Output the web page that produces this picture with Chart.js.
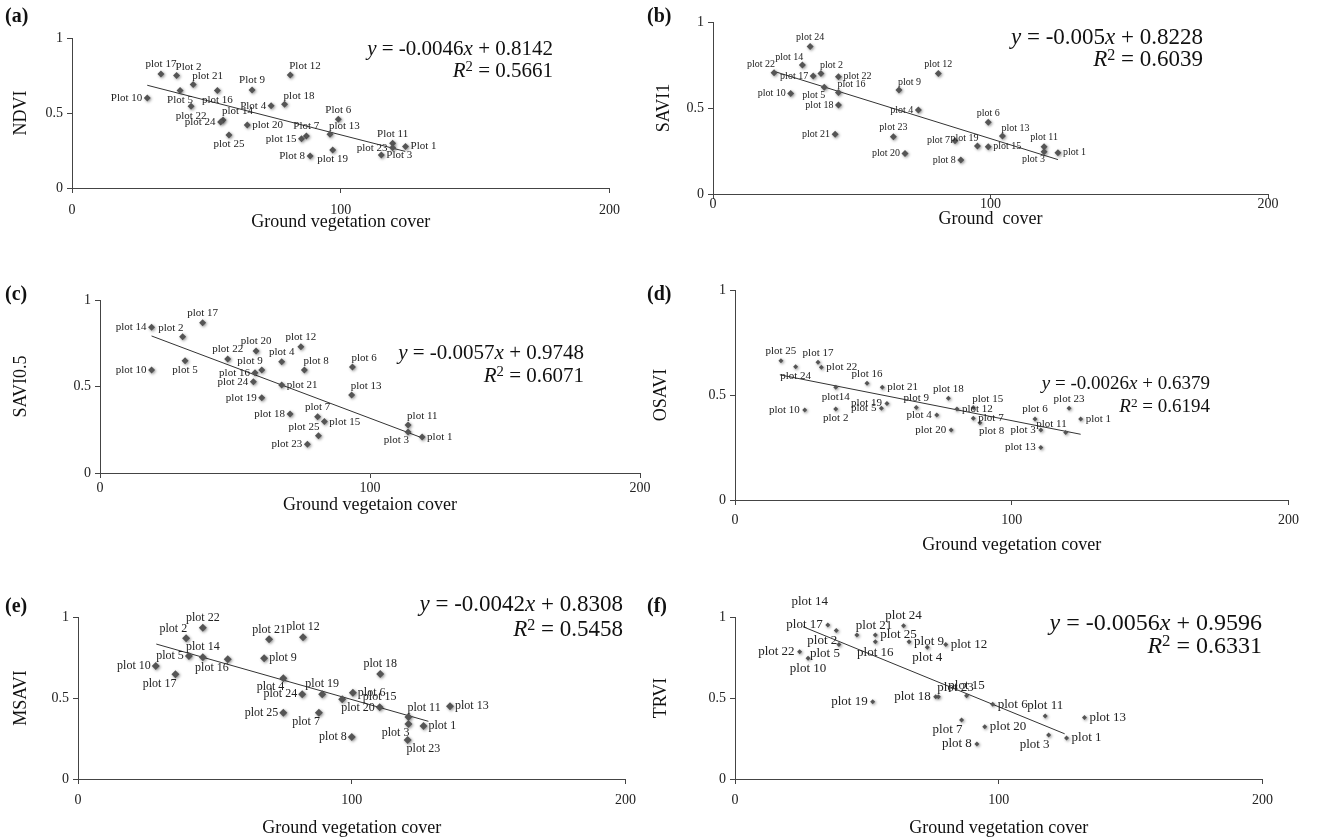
<!DOCTYPE html>
<html>
<head>
<meta charset="utf-8">
<script src="https://cdn.jsdelivr.net/npm/chart.js@4.4.0/dist/chart.umd.min.js"></script>
<style>
  body { margin: 0; background: #fff; width: 1326px; height: 840px; position: relative; overflow: hidden; font-family: "Liberation Serif", serif; }
  canvas { position: absolute; }
  .tag { position: absolute; font-weight: bold; font-size: 20px; color: #111; }
  .eq { position: absolute; text-align: right; white-space: nowrap; color: #111; }
  .eq sup { font-size: 0.7em; vertical-align: 0.4em; line-height: 0; }
</style>
</head>
<body>
<script>
// shared axes
const xTicks = [0, 100, 200];
const yTicks = [0, 0.5, 1];

// (a) NDVI
const aNames = ['Plot 10','plot 17','Plot 2','Plot 5','plot 21','plot 22','plot 16','plot 14','plot 24','plot 25','plot 20','Plot 9','Plot 4','plot 18','Plot 12','Plot 7','plot 15','Plot 8','Plot 6','plot 13','plot 19','Plot 11','plot 23','Plot 1','Plot 3'];
const aX = [28.0, 33.1, 38.9, 40.2, 45.1, 44.3, 54.1, 56.2, 55.3, 58.4, 65.2, 67.0, 74.1, 79.1, 81.2, 87.2, 85.4, 88.6, 99.1, 96.0, 97.0, 119.3, 119.3, 124.1, 115.1];
const aY = [0.60, 0.76, 0.75, 0.65, 0.69, 0.545, 0.65, 0.453, 0.44, 0.353, 0.42, 0.653, 0.549, 0.558, 0.753, 0.347, 0.329, 0.213, 0.458, 0.358, 0.253, 0.298, 0.269, 0.276, 0.22];
const aSide = ['l','t','tr','b','tr','b','b','tr','l','b','r','t','l','tr','tr','t','l','l','t','tr','b','t','l','r','r'];
const aFitX = [28, 124];
const aFitY = [0.685, 0.244];

// (b) SAVI1
const bNames = ['plot 24','plot 14','plot 22','plot 17','plot 2','plot 22','plot 10','plot 5','plot 16','plot 18','plot 21','plot 9','plot 12','plot 4','plot 23','plot 20','plot 7','plot 8','plot 6','plot 13','plot 19','plot 15','plot 11','plot 3','plot 1'];
const bX = [35.0, 32.2, 22.0, 36.1, 38.9, 45.2, 28.0, 40.1, 45.2, 45.2, 44.0, 67.0, 81.2, 74.0, 65.0, 69.2, 87.2, 89.3, 99.2, 104.3, 95.3, 99.2, 119.3, 119.3, 124.3];
const bY = [0.857, 0.75, 0.705, 0.686, 0.70, 0.682, 0.585, 0.62, 0.59, 0.517, 0.347, 0.605, 0.70, 0.488, 0.333, 0.236, 0.31, 0.197, 0.417, 0.337, 0.279, 0.275, 0.275, 0.246, 0.24];
const bSide = ['t','tl','tl','l','tr','r','l','bl','tr','l','l','tr','t','l','t','l','l','l','t','tr','tl','r','t','bl','r'];
const bFitX = [22, 124.3];
const bFitY = [0.713, 0.2];

// (c) SAVI0.5
const cNames = ['plot 14','plot 2','plot 17','plot 10','plot 5','plot 22','plot 20','plot 12','plot 4','plot 8','plot 9','plot 16','plot 24','plot 21','plot 19','plot 18','plot 7','plot 15','plot 25','plot 23','plot 13','plot 6','plot 11','plot 3','plot 1'];
const cX = [19.1, 30.6, 38.0, 19.1, 31.5, 47.3, 57.8, 74.4, 67.3, 75.7, 59.9, 57.4, 56.8, 67.3, 59.9, 70.4, 80.6, 83.1, 80.9, 76.8, 93.2, 93.5, 114.1, 114.1, 119.3];
const cY = [0.842, 0.788, 0.869, 0.595, 0.649, 0.659, 0.705, 0.730, 0.643, 0.595, 0.595, 0.58, 0.528, 0.509, 0.435, 0.341, 0.325, 0.297, 0.216, 0.166, 0.451, 0.613, 0.277, 0.237, 0.208];
const cSide = ['l','tl','t','l','b','t','t','t','t','tr','tl','l','l','r','l','l','t','r','tl','l','tr','tr','tr','bl','r'];
const cFitX = [19.1, 120];
const cFitY = [0.792, 0.199];

// (d) OSAVI
const dNames = ['plot 25','plot 24','plot 17','plot 22','plot14','plot 10','plot 2','plot 16','plot 21','plot 19','plot 5','plot 9','plot 4','plot 18','plot 20','plot 12','plot 15','plot 7','plot 8','plot 6','plot 23','plot 1','plot 11','plot 3','plot 13'];
const dX = [16.6, 21.9, 30.0, 31.2, 36.4, 25.2, 36.4, 47.7, 53.2, 54.9, 52.9, 65.5, 72.9, 77.1, 78.1, 80.2, 86.1, 86.1, 88.5, 108.4, 120.7, 124.9, 119.5, 110.5, 110.5];
const dY = [0.663, 0.635, 0.656, 0.632, 0.537, 0.429, 0.433, 0.556, 0.537, 0.46, 0.437, 0.44, 0.405, 0.484, 0.333, 0.433, 0.441, 0.389, 0.368, 0.386, 0.437, 0.386, 0.321, 0.333, 0.25];
const dSide = ['t','b','t','r','b','l','b','t','r','l','l','t','l','t','l','r','tr','r','br','t','t','r','tl','l','l'];
const dFitX = [16.2, 124.9];
const dFitY = [0.596, 0.313];

// (e) MSAVI
const eNames = ['plot 22','plot 2','plot 21','plot 12','plot 10','plot 5','plot 14','plot 16','plot 9','plot 17','plot 4','plot 19','plot 24','plot 6','plot 20','plot 25','plot 7','plot 18','plot 13','plot 15','plot 11','plot 3','plot 1','plot 23','plot 8'];
const eX = [45.6, 39.5, 69.8, 82.2, 28.4, 40.5, 45.6, 54.7, 68.0, 35.6, 75.0, 89.2, 81.9, 100.4, 96.5, 75.0, 88.0, 110.4, 135.9, 110.2, 120.7, 120.7, 126.2, 120.4, 100.0];
const eY = [0.934, 0.869, 0.862, 0.875, 0.697, 0.759, 0.752, 0.739, 0.745, 0.646, 0.622, 0.523, 0.523, 0.533, 0.492, 0.409, 0.409, 0.648, 0.449, 0.443, 0.383, 0.34, 0.327, 0.241, 0.26];
const eSide = ['t','tl','t','t','l','l','t','bl','r','bl','bl','t','l','r','br','l','bl','t','r','t','tr','bl','r','br','l'];
const eFitX = [28.6, 128];
const eFitY = [0.833, 0.356];

// (f) TRVI
const fNames = ['plot 14','plot 17','plot 2','plot 21','plot 22','plot 10','plot 5','plot 25','plot 16','plot 24','plot 9','plot 4','plot 12','plot 19','plot 18','plot 23','plot 15','plot 7','plot 20','plot 6','plot 11','plot 13','plot 3','plot 1','plot 8'];
const fX = [28.3, 35.2, 38.4, 46.2, 24.5, 27.7, 39.4, 53.2, 53.2, 63.9, 66.0, 72.9, 79.9, 52.2, 76.1, 77.1, 87.8, 85.9, 94.7, 97.7, 117.6, 132.5, 118.9, 125.7, 91.7];
const fY = [1.033, 0.951, 0.916, 0.889, 0.786, 0.745, 0.831, 0.889, 0.847, 0.946, 0.847, 0.813, 0.831, 0.477, 0.508, 0.508, 0.514, 0.364, 0.323, 0.461, 0.389, 0.379, 0.272, 0.253, 0.216];
const fSide = ['t','l','bl','tr','l','b','bl','r','b','t','r','b','r','l','l','tr','t','bl','r','r','t','r','bl','r','l'];
const fFitX = [25.8, 125];
const fFitY = [0.94, 0.279];

// trendline equations, in panel order a..f
const eqSlope = ['-0.0046', '-0.005', '-0.0057', '-0.0026', '-0.0042', '-0.0056'];
const eqIntercept = ['0.8142', '0.8228', '0.9748', '0.6379', '0.8308', '0.9596'];
const eqR2 = ['0.5661', '0.6039', '0.6071', '0.6194', '0.5458', '0.6331'];

const FONT = '"Liberation Serif", "Times New Roman", serif';
const INK = '#222';
const TOP = 26;

function labelPlugin(names, sides, size) {
  return {
    id: 'ptLabels',
    afterDatasetsDraw(chart) {
      const ctx = chart.ctx;
      const pts = chart.getDatasetMeta(0).data;
      ctx.save();
      ctx.font = size + 'px ' + FONT;
      ctx.fillStyle = INK;
      pts.forEach((pt, i) => {
        const s = sides[i];
        let x = pt.x, y = pt.y;
        if (s === 'r') { ctx.textAlign = 'left'; ctx.textBaseline = 'middle'; x += 5; }
        else if (s === 'l') { ctx.textAlign = 'right'; ctx.textBaseline = 'middle'; x -= 5; }
        else if (s === 't') { ctx.textAlign = 'center'; ctx.textBaseline = 'bottom'; y -= 4; }
        else if (s === 'b') { ctx.textAlign = 'center'; ctx.textBaseline = 'top'; y += 4; }
        else if (s === 'tr') { ctx.textAlign = 'left'; ctx.textBaseline = 'bottom'; x -= 1; y -= 3; }
        else if (s === 'tl') { ctx.textAlign = 'right'; ctx.textBaseline = 'bottom'; x += 1; y -= 3; }
        else if (s === 'br') { ctx.textAlign = 'left'; ctx.textBaseline = 'top'; x -= 1; y += 3; }
        else { ctx.textAlign = 'right'; ctx.textBaseline = 'top'; x += 1; y += 3; }
        ctx.fillText(names[i], x, y);
      });
      ctx.restore();
    }
  };
}

const shadowPlugin = {
  id: 'ptShadow',
  beforeDatasetDraw(chart, args) {
    if (args.index !== 0) return;
    const ctx = chart.ctx;
    ctx.save();
    ctx.shadowColor = 'rgba(0,0,0,0.45)';
    ctx.shadowBlur = 3;
    ctx.shadowOffsetX = 1;
    ctx.shadowOffsetY = 1;
  },
  afterDatasetDraw(chart, args) {
    if (args.index === 0) chart.ctx.restore();
  }
};

function makePanel(p) {
  const padL = p.yd + 10;
  const xH = p.xd + 11;
  const W = p.r - p.l + padL + 16;
  const H = p.b - p.t + TOP + xH;
  const cv = document.createElement('canvas');
  cv.width = W; cv.height = H;
  cv.style.left = (p.l - padL) + 'px';
  cv.style.top = (p.t - TOP) + 'px';
  document.body.appendChild(cv);

  const tag = document.createElement('div');
  tag.className = 'tag';
  tag.textContent = p.tag;
  tag.style.left = p.tagX + 'px';
  tag.style.top = p.tagY + 'px';
  document.body.appendChild(tag);

  const i = p.eqIdx;
  const eq = document.createElement('div');
  eq.className = 'eq';
  eq.innerHTML = '<i>y</i> = ' + eqSlope[i] + '<i>x</i> + ' + eqIntercept[i] +
    '<br><i>R</i><sup>2</sup> = ' + eqR2[i];
  eq.style.fontSize = p.eqSize + 'px';
  eq.style.lineHeight = p.eqGap + 'px';
  eq.style.right = (1326 - p.eqR) + 'px';
  eq.style.top = (p.eqY - p.eqGap / 2) + 'px';
  document.body.appendChild(eq);

  const tickFont = { family: FONT, size: 14 };
  new Chart(cv, {
    type: 'scatter',
    data: {
      datasets: [
        {
          data: p.xs.map((v, k) => ({ x: v, y: p.ys[k] })),
          pointStyle: 'rectRot',
          pointRadius: p.ptR,
          pointHoverRadius: p.ptR,
          backgroundColor: '#555',
          borderWidth: 0,
          clip: false
        },
        {
          type: 'line',
          data: p.fitX.map((v, k) => ({ x: v, y: p.fitY[k] })),
          borderColor: '#333',
          borderWidth: 1,
          pointRadius: 0,
          fill: false
        }
      ]
    },
    options: {
      responsive: false,
      animation: false,
      devicePixelRatio: 1,
      layout: { padding: { left: 0, top: TOP, right: 16, bottom: 0 } },
      plugins: { legend: { display: false }, tooltip: { enabled: false } },
      scales: {
        x: {
          type: 'linear', min: 0, max: 200,
          afterBuildTicks: s => { s.ticks = xTicks.map(v => ({ value: v })); },
          ticks: { font: tickFont, color: INK, padding: p.xPad, maxRotation: 0, autoSkip: false, callback: v => String(v) },
          grid: { drawOnChartArea: false, drawTicks: true, tickLength: 5, color: '#444' },
          border: { color: '#444', width: 1 },
          title: { display: true, text: p.xTitle, font: { family: FONT, size: 18 }, color: '#111', padding: 0 },
          afterFit: s => { s.height = xH; }
        },
        y: {
          type: 'linear', min: 0, max: 1,
          afterBuildTicks: s => { s.ticks = yTicks.map(v => ({ value: v })); },
          ticks: { font: tickFont, color: INK, padding: 4, callback: v => String(v) },
          grid: { drawOnChartArea: false, drawTicks: true, tickLength: 5, color: '#444' },
          border: { color: '#444', width: 1 },
          title: { display: true, text: p.yTitle, font: { family: FONT, size: 18 }, color: '#111', padding: 0 },
          afterFit: s => { s.width = padL; }
        }
      }
    },
    plugins: [shadowPlugin, labelPlugin(p.names, p.sides, p.lbl)]
  });
}

makePanel({ tag: '(a)', tagX: 5, tagY: 4, l: 72, t: 38, r: 613, b: 188, yd: 52, xd: 34, xPad: 9,
  yTitle: 'NDVI', xTitle: 'Ground vegetation cover', lbl: 11, ptR: 3.5,
  names: aNames, xs: aX, ys: aY, sides: aSide, fitX: aFitX, fitY: aFitY,
  eqIdx: 0, eqR: 553, eqY: 48, eqSize: 21, eqGap: 22 });
makePanel({ tag: '(b)', tagX: 647, tagY: 4, l: 713, t: 22, r: 1268, b: 194, yd: 50, xd: 25, xPad: -3,
  yTitle: 'SAVI1', xTitle: 'Ground  cover', lbl: 10, ptR: 3.5,
  names: bNames, xs: bX, ys: bY, sides: bSide, fitX: bFitX, fitY: bFitY,
  eqIdx: 1, eqR: 1203, eqY: 37, eqSize: 23, eqGap: 22 });
makePanel({ tag: '(c)', tagX: 5, tagY: 282, l: 100, t: 300, r: 640, b: 473, yd: 80, xd: 32, xPad: 2,
  yTitle: 'SAVI0.5', xTitle: 'Ground vegetaion cover', lbl: 11, ptR: 3.5,
  names: cNames, xs: cX, ys: cY, sides: cSide, fitX: cFitX, fitY: cFitY,
  eqIdx: 2, eqR: 584, eqY: 352, eqSize: 21, eqGap: 23 });
makePanel({ tag: '(d)', tagX: 647, tagY: 282, l: 735, t: 290, r: 1290, b: 500, yd: 75, xd: 45, xPad: 7,
  yTitle: 'OSAVI', xTitle: 'Ground vegetation cover', lbl: 11, ptR: 2.5,
  names: dNames, xs: dX, ys: dY, sides: dSide, fitX: dFitX, fitY: dFitY,
  eqIdx: 3, eqR: 1210, eqY: 382, eqSize: 19, eqGap: 23 });
makePanel({ tag: '(e)', tagX: 5, tagY: 594, l: 78, t: 617, r: 628, b: 779, yd: 58, xd: 49, xPad: 8,
  yTitle: 'MSAVI', xTitle: 'Ground vegetation cover', lbl: 12, ptR: 4,
  names: eNames, xs: eX, ys: eY, sides: eSide, fitX: eFitX, fitY: eFitY,
  eqIdx: 4, eqR: 623, eqY: 603, eqSize: 23, eqGap: 25 });
makePanel({ tag: '(f)', tagX: 647, tagY: 594, l: 735, t: 617, r: 1265, b: 779, yd: 75, xd: 49, xPad: 8,
  yTitle: 'TRVI', xTitle: 'Ground vegetation cover', lbl: 13, ptR: 2.5,
  names: fNames, xs: fX, ys: fY, sides: fSide, fitX: fFitX, fitY: fFitY,
  eqIdx: 5, eqR: 1262, eqY: 622, eqSize: 24, eqGap: 23 });
</script>
</body>
</html>
